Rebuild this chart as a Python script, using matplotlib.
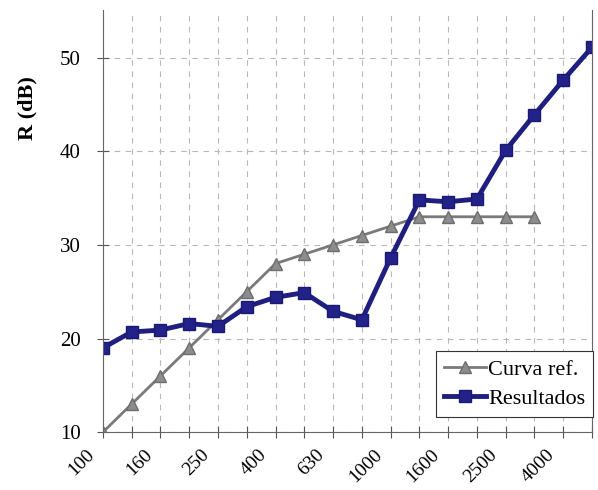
import numpy as np
import matplotlib.pyplot as plt
import matplotlib.transforms as mtransforms

# frequency bands (Hz)
freqs = ['100', '125', '160', '200', '250', '315', '400', '500', '630', '800',
         '1000', '1250', '1600', '2000', '2500', '3150', '4000', '5000']

# reference curve (stops at 3150 Hz)
ref_vals = [10, 13, 16, 19, 22, 25, 28, 29, 30, 31, 32, 33, 33, 33, 33, 33]

# measured results
res_vals = [19.0, 20.7, 20.9, 21.6, 21.3, 23.4, 24.4, 24.9, 22.9, 22.0,
            28.6, 34.8, 34.6, 34.9, 40.1, 43.9, 47.6, 51.1]

plt.rcParams['font.family'] = ['Liberation Serif', 'DejaVu Serif']

fig = plt.figure(figsize=(5.98, 4.9), dpi=100)
ax = fig.add_axes([0.172, 0.118, 0.818, 0.862])

x_ref = np.arange(len(ref_vals))
x_res = np.arange(len(res_vals))

ax.plot(x_ref, ref_vals, color='#7a7a7a', lw=2, marker='^', markersize=8,
        markerfacecolor='#8c8c8c', markeredgecolor='#6e6e6e', label='Curva ref.')
ax.plot(x_res, res_vals, color='#1f1f7f', lw=3.5, marker='s', markersize=9,
        markerfacecolor='#22228a', markeredgecolor='#1a1a70', label='Resultados')

ax.set_xlim(0, len(freqs) - 1)
ax.set_ylim(10, 55.1)
ax.set_yticks([10, 20, 30, 40, 50])
ax.set_xticks(np.arange(len(freqs)))
ax.set_xticklabels([f if i % 2 == 0 else '' for i, f in enumerate(freqs)],
                   rotation=45, ha='right', rotation_mode='anchor')

ax.tick_params(axis='both', direction='inout', length=8, width=0.8,
               labelsize=15, colors='#555555', labelcolor='black')
ax.tick_params(axis='x', pad=4, labelsize=14)
ax.tick_params(axis='y', pad=12)

# shift the rotated labels a little to the left, like the original
offset = mtransforms.ScaledTranslation(-0.17, -0.03, fig.dpi_scale_trans)
for lab in ax.get_xticklabels():
    lab.set_transform(lab.get_transform() + offset)

ax.grid(True, linestyle=(0, (5, 5)), color='#b8b8b8', lw=0.8)
ax.set_axisbelow(True)

for side in ['left', 'bottom', 'right']:
    ax.spines[side].set_color('#666666')
ax.spines['top'].set_visible(False)

ax.set_ylabel('R (dB)', fontsize=16, fontweight='bold', va='center')
ax.yaxis.set_label_coords(-0.155, 0.768)

leg = ax.legend(loc='lower right', fontsize=16, frameon=True, fancybox=False,
                handlelength=1.9, handletextpad=0.1, borderpad=0.35,
                labelspacing=0.4, bbox_to_anchor=(1.025, 0.01))
leg.get_frame().set_edgecolor('#333333')
leg.get_frame().set_linewidth(0.8)
leg.get_frame().set_alpha(1)

fig.savefig('out.png', dpi=100)
